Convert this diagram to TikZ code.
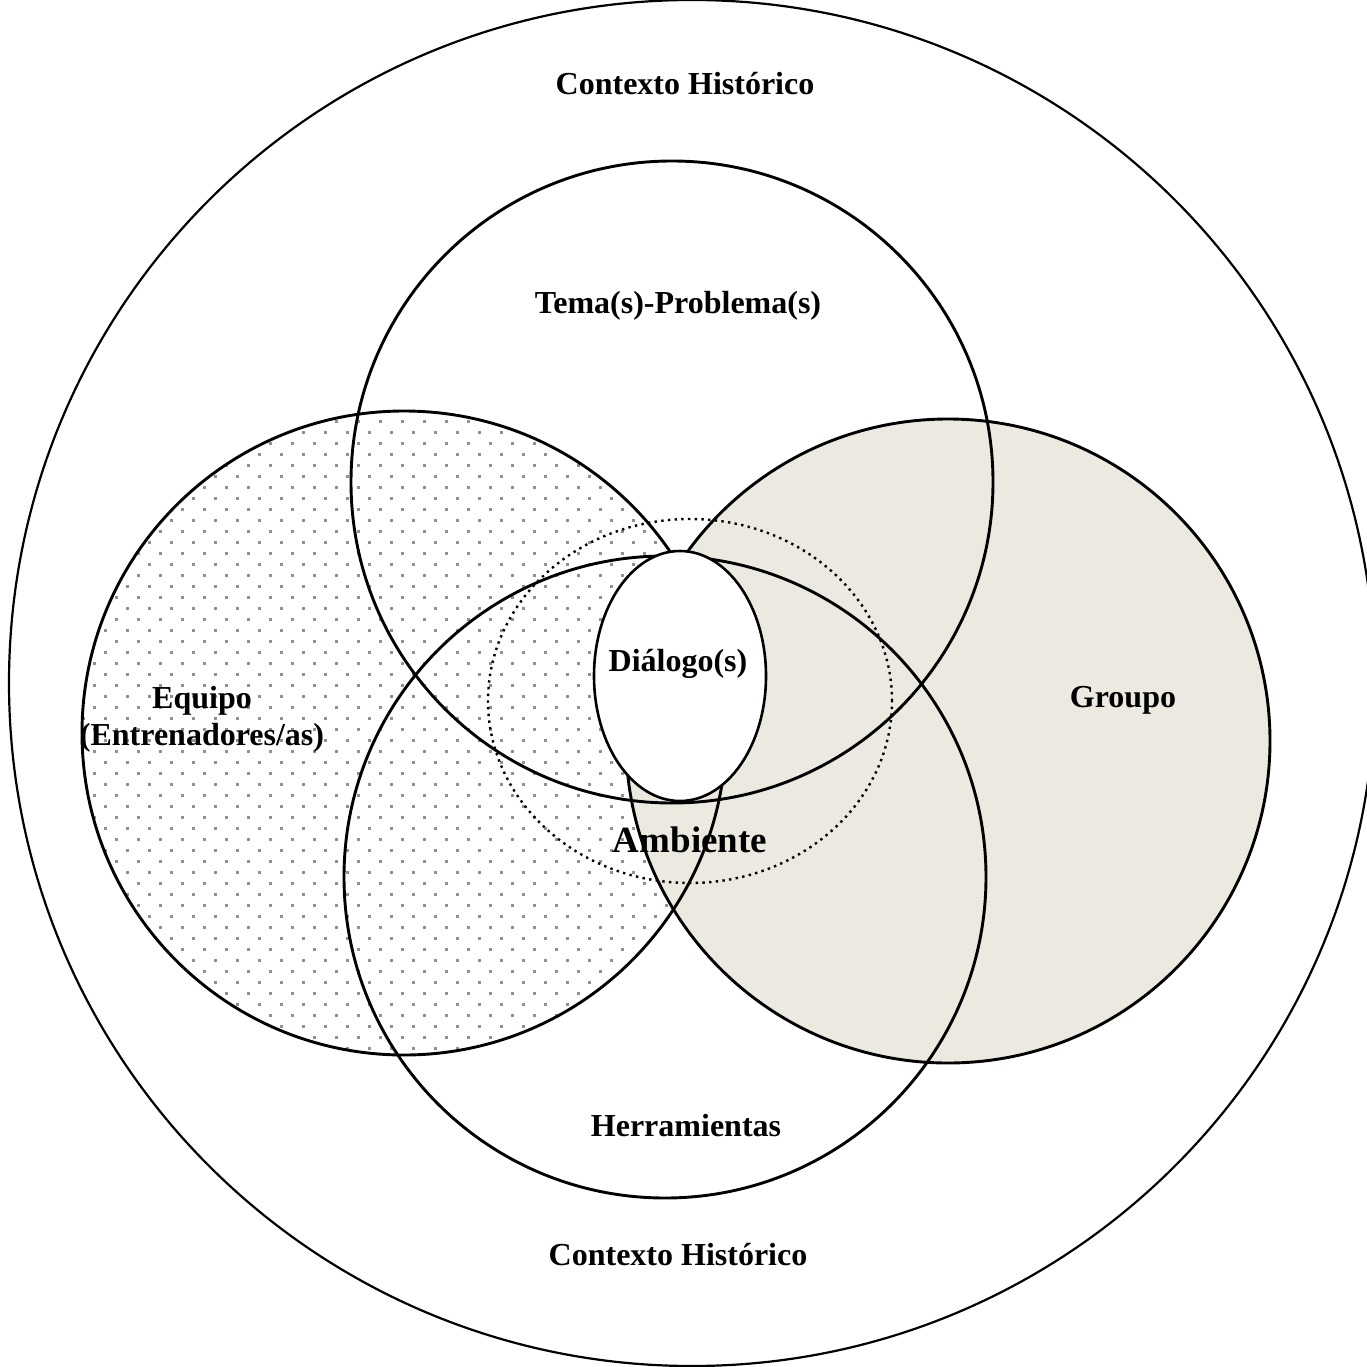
\documentclass[tikz,border=0pt]{standalone}
\usepackage{fontspec}
\setmainfont{Liberation Serif}
\definecolor{beige}{RGB}{236,233,224}
\definecolor{dotgray}{RGB}{145,145,145}
\begin{document}
\begin{tikzpicture}[x=1pt,y=-1pt,
  ring/.style={draw=black,line width=2.9pt},
  lbl/.style={font=\fontsize{32}{37}\selectfont\bfseries,align=center,inner sep=0pt}]
\useasboundingbox (0,0) rectangle (1366,1367);
\fill[white] (0,0) rectangle (1366,1367);
% outer circle
\draw[line width=2.2pt] (692,683) circle[radius=683pt];
% Equipo dotted fill
\begin{scope}
  \clip (404,733) circle[radius=322pt];
  \foreach \r in {0,...,59} {
    \foreach \c in {0,...,29} {
      \fill[dotgray] ({83.3+22*\c-11*mod(\r,2)-1.25},{410.7+11*\r-1.25}) rectangle +(2.5,2.5);
    }
  }
\end{scope}
% Groupo fill
\fill[beige] (948,741) circle[radius=322pt];
% outlines
\draw[ring] (404,733) circle[radius=322pt];
\draw[ring] (948,741) circle[radius=322pt];
\draw[ring] (672,482) circle[radius=321pt];
\draw[ring] (665,877) circle[radius=321pt];
\draw[line width=2.4pt,dash pattern=on 2.4pt off 4.3pt] (690,701) ellipse[x radius=202pt,y radius=182pt];
% Dialogo ellipse
\draw[line width=2.6pt,fill=white] (680,676) ellipse[x radius=86pt,y radius=125pt];
% labels
\node[lbl] (ctop) at (685,84) {Contexto Histórico};
\node[lbl] (tema) at (678,306) {Tema(s)-Problema(s)};
\node[lbl] (dia) at (678,664) {Diálogo(s)};
\node[lbl] (equ) at (202,719) {Equipo\\(Entrenadores/as)};
\node[lbl] (grp) at (1123,700) {Groupo};
\node[lbl,font=\fontsize{37}{42}\selectfont\bfseries] (amb) at (690,840) {Ambiente};
\node[lbl] (her) at (686,1126) {Herramientas};
\node[lbl] (cbot) at (678,1255) {Contexto Histórico};
\end{tikzpicture}
\end{document}
